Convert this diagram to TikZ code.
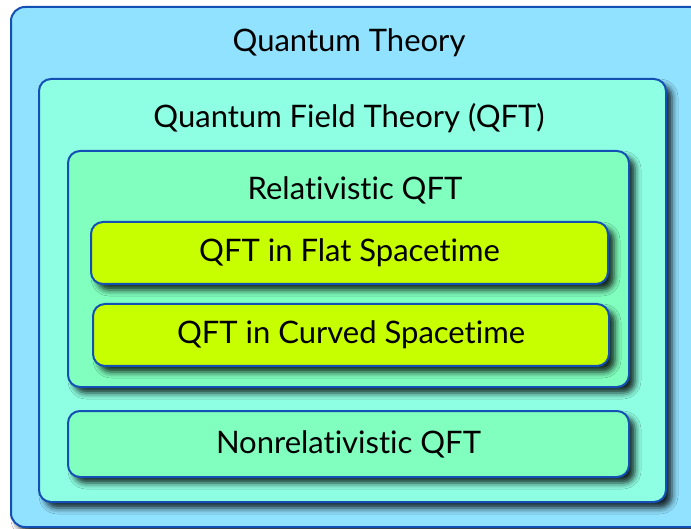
\documentclass[tikz,border=0pt]{standalone}
\usepackage{fontspec}
\setmainfont{Lato}[Ligatures=NoCommon]
\usetikzlibrary{positioning,shadows.blur}
\definecolor{qtblue}{RGB}{144,226,255}
\definecolor{qftaqua}{RGB}{142,255,227}
\definecolor{relgreen}{RGB}{128,255,190}
\definecolor{flatyellow}{RGB}{200,255,0}
\definecolor{edgeblue}{RGB}{20,80,180}

\begin{document}
\begin{tikzpicture}[x=0.5pt, y=-0.5pt,
    box/.style={draw=edgeblue, line width=1pt, rounded corners=6pt, inner sep=0pt,
      blur shadow={shadow xshift=3pt, shadow yshift=-3pt, shadow blur radius=3pt, shadow opacity=85}},
    title/.style={font=\fontsize{15.5}{18}\selectfont, text=black}]
  \useasboundingbox (0,0) rectangle (691,529);
  \clip (0,0) rectangle (691,529);
  \fill[white] (0,0) rectangle (691,529);

  % Outer box
  \node[box, fill=qtblue, rounded corners=7pt, minimum width=347pt, minimum height=260pt] (qt) at (358,267) {};
  \node[title] (qtLabel) at (349,43) {Quantum Theory};

  % Quantum field theory
  \node[box, fill=qftaqua, minimum width=313.5pt, minimum height=211.5pt] (qft) at (352.5,290.5) {};
  \node[title] (qftLabel) at (349,118) {Quantum Field Theory (QFT)};

  % Relativistic QFT
  \node[box, fill=relgreen, minimum width=280.5pt, minimum height=118pt] (rel) at (348.5,269) {};
  \node[title] (relLabel) at (355,190) {Relativistic QFT};

  % Inner boxes
  \node[box, fill=flatyellow, minimum width=258.5pt, minimum height=31pt, title] (flat) at (349.5,253) {QFT in Flat Spacetime};
  \node[box, fill=flatyellow, minimum width=258pt, minimum height=31pt, title] (curved) at (351,335) {QFT in Curved Spacetime};

  % Nonrelativistic QFT
  \node[box, fill=relgreen, minimum width=280.5pt, minimum height=33pt, title] (nonrel) at (348.5,444) {Nonrelativistic QFT};
\end{tikzpicture}
\end{document}
